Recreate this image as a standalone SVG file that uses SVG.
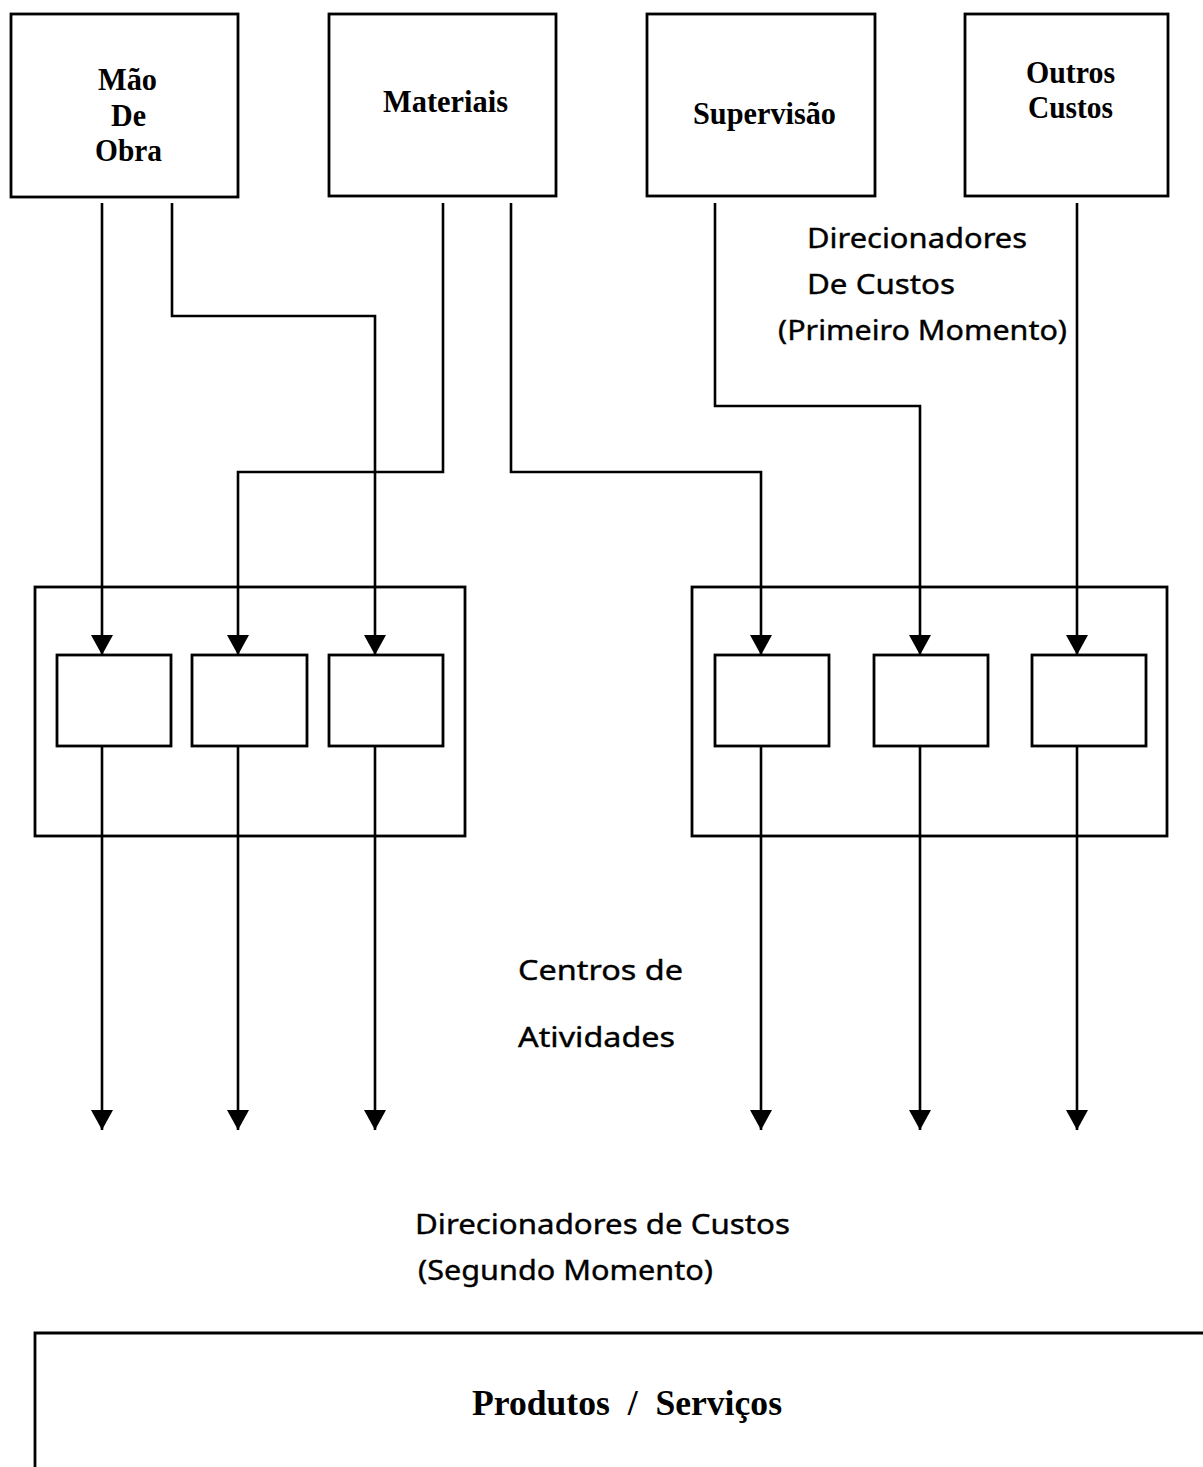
<svg xmlns="http://www.w3.org/2000/svg" width="1203" height="1467" viewBox="0 0 1203 1467">
<style>
.box{fill:#fff;stroke:#000;stroke-width:2.8}
.grp{fill:none;stroke:#000;stroke-width:2.8}
.ln{fill:none;stroke:#000;stroke-width:2.6}
.ser{font-family:"Liberation Serif","Times New Roman",serif;font-weight:bold;font-size:32px;fill:#000}
.san{font-family:"Noto Sans","Open Sans",sans-serif;font-size:28px;fill:#000;stroke:#000;stroke-width:0.4}
</style>
<defs>
<marker id="ah" markerUnits="userSpaceOnUse" markerWidth="24" markerHeight="24" viewBox="0 0 24 24" refX="21" refY="12" orient="auto">
<path d="M1,1 L21,12 L1,23 Z" fill="#000"/>
</marker>
</defs>
<rect width="1203" height="1467" fill="#fff"/>

<g id="node-mao-de-obra">
<rect class="box" x="11" y="14" width="227" height="183"/>
<text class="ser" x="98" y="90" textLength="59" lengthAdjust="spacingAndGlyphs">Mão</text>
<text class="ser" x="111" y="126" textLength="35" lengthAdjust="spacingAndGlyphs">De</text>
<text class="ser" x="95" y="161" textLength="67" lengthAdjust="spacingAndGlyphs">Obra</text>
</g>
<g id="node-materiais">
<rect class="box" x="329" y="14" width="227" height="182"/>
<text class="ser" x="383" y="112" textLength="125" lengthAdjust="spacingAndGlyphs">Materiais</text>
</g>
<g id="node-supervisao">
<rect class="box" x="647" y="14" width="228" height="182"/>
<text class="ser" x="693" y="124" textLength="143" lengthAdjust="spacingAndGlyphs">Supervisão</text>
</g>
<g id="node-outros-custos">
<rect class="box" x="965" y="14" width="203" height="182"/>
<text class="ser" x="1026" y="83" textLength="89" lengthAdjust="spacingAndGlyphs">Outros</text>
<text class="ser" x="1028" y="118" textLength="85" lengthAdjust="spacingAndGlyphs">Custos</text>
</g>

<g id="group-left">
<rect class="grp" x="35" y="587" width="430" height="249"/>
</g>
<g id="group-right">
<rect class="grp" x="692" y="587" width="475" height="249"/>
</g>

<g id="connectors">
<path class="ln" d="M102,203 V655" marker-end="url(#ah)"/>
<path class="ln" d="M172,203 V316 H375 V655" marker-end="url(#ah)"/>
<path class="ln" d="M443,203 V472 H238 V655" marker-end="url(#ah)"/>
<path class="ln" d="M511,203 V472 H761 V655" marker-end="url(#ah)"/>
<path class="ln" d="M715,203 V406 H920 V655" marker-end="url(#ah)"/>
<path class="ln" d="M1077,203 V655" marker-end="url(#ah)"/>
<path class="ln" d="M102,746 V1130" marker-end="url(#ah)"/>
<path class="ln" d="M238,746 V1130" marker-end="url(#ah)"/>
<path class="ln" d="M375,746 V1130" marker-end="url(#ah)"/>
<path class="ln" d="M761,746 V1130" marker-end="url(#ah)"/>
<path class="ln" d="M920,746 V1130" marker-end="url(#ah)"/>
<path class="ln" d="M1077,746 V1130" marker-end="url(#ah)"/>
</g>

<g id="node-a1"><rect class="box" x="57" y="655" width="114" height="91"/></g>
<g id="node-a2"><rect class="box" x="192" y="655" width="115" height="91"/></g>
<g id="node-a3"><rect class="box" x="329" y="655" width="114" height="91"/></g>
<g id="node-a4"><rect class="box" x="715" y="655" width="114" height="91"/></g>
<g id="node-a5"><rect class="box" x="874" y="655" width="114" height="91"/></g>
<g id="node-a6"><rect class="box" x="1032" y="655" width="114" height="91"/></g>

<g id="label-primeiro">
<text class="san" x="807" y="248" textLength="220" lengthAdjust="spacingAndGlyphs">Direcionadores</text>
<text class="san" x="807" y="294" textLength="148" lengthAdjust="spacingAndGlyphs">De Custos</text>
<text class="san" x="778" y="340" textLength="289" lengthAdjust="spacingAndGlyphs">(Primeiro Momento)</text>
</g>
<g id="label-centros">
<text class="san" x="518" y="980" textLength="165" lengthAdjust="spacingAndGlyphs">Centros de</text>
<text class="san" x="518" y="1047" textLength="157" lengthAdjust="spacingAndGlyphs">Atividades</text>
</g>
<g id="label-segundo">
<text class="san" x="415" y="1234" textLength="375" lengthAdjust="spacingAndGlyphs">Direcionadores de Custos</text>
<text class="san" x="418" y="1280" textLength="295" lengthAdjust="spacingAndGlyphs">(Segundo Momento)</text>
</g>

<g id="node-produtos">
<path class="grp" d="M35,1467 V1333 H1203"/>
<text class="ser" x="472" y="1415" textLength="310" lengthAdjust="spacingAndGlyphs" style="font-size:35px;white-space:pre" xml:space="preserve">Produtos  /  Serviços</text>
</g>
</svg>
